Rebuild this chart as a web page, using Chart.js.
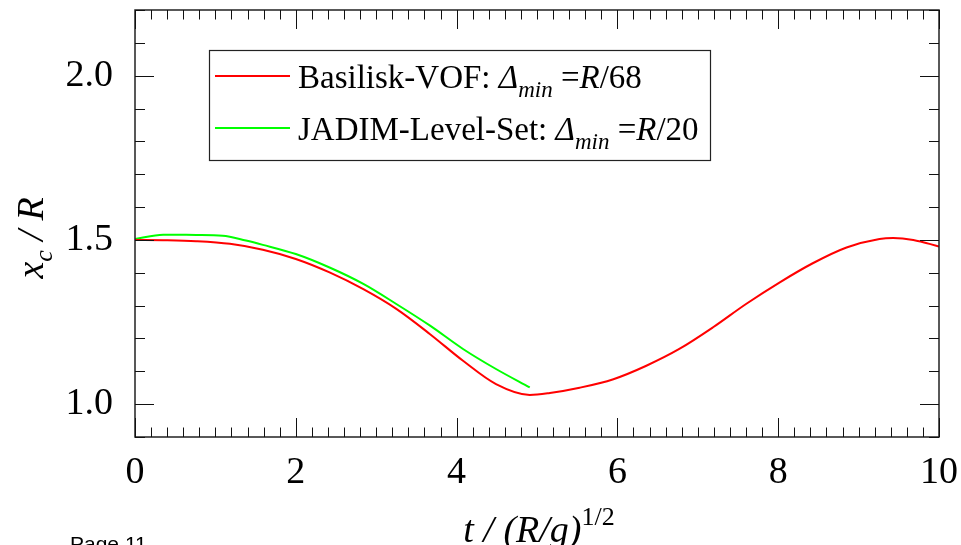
<!DOCTYPE html>
<html>
<head>
<meta charset="utf-8">
<script src="https://cdn.jsdelivr.net/npm/chart.js@4.4.1/dist/chart.umd.min.js"></script>
<style>
html,body{margin:0;padding:0;background:#fff;}
#wrap{width:961px;height:545px;position:relative;}
</style>
</head>
<body>
<div id="wrap"><canvas id="c" width="961" height="545"></canvas></div>
<script>
// ---- data ----
const basiliskT = [0, 0.35, 0.76, 1.18, 1.59, 2.0, 2.42, 2.84, 3.25, 3.67, 4.08, 4.49, 4.91, 5.16, 5.53, 5.95, 6.36, 6.77, 7.19, 7.60, 8.02, 8.43, 8.85, 9.26, 9.43, 9.68, 10.0];
const basiliskX = [1.500, 1.499, 1.496, 1.488, 1.470, 1.442, 1.401, 1.350, 1.290, 1.213, 1.132, 1.061, 1.028, 1.034, 1.050, 1.076, 1.117, 1.168, 1.234, 1.305, 1.371, 1.429, 1.477, 1.503, 1.506, 1.500, 1.480];
const jadimT = [0, 0.35, 0.76, 1.09, 1.38, 1.59, 2.0, 2.42, 2.84, 3.25, 3.67, 4.08, 4.49, 4.91];
const jadimX = [1.503, 1.516, 1.515, 1.513, 1.498, 1.485, 1.457, 1.416, 1.366, 1.305, 1.239, 1.168, 1.107, 1.051];
const xTickLabels = ['0', '2', '4', '6', '8', '10'];
const yTickValues = [1.0, 1.5, 2.0];
const yTickLabels = ['1.0', '1.5', '2.0'];
const seriesNames = ['Basilisk-VOF', 'JADIM-Level-Set'];
const seriesRes = ['68', '20'];

const SERIF = '"Liberation Serif", "DejaVu Serif", serif';

function toXY(ts, vs){ return ts.map((t,i)=>({x:t, y:vs[i]})); }

function drawSegs(ctx, segs, x, y){
  let cx = x;
  segs.forEach(s=>{
    ctx.font = (s.italic?'italic ':'') + s.size + 'px ' + SERIF;
    ctx.fillText(s.t, cx, y + (s.dy||0));
    cx += ctx.measureText(s.t).width;
  });
  return cx - x;
}
function measureSegs(ctx, segs){
  let w = 0;
  segs.forEach(s=>{
    ctx.font = (s.italic?'italic ':'') + s.size + 'px ' + SERIF;
    w += ctx.measureText(s.t).width;
  });
  return w;
}

const decor = {
  id: 'decor',
  afterDatasetsDraw(chart){
    const ctx = chart.ctx;
    const a = chart.chartArea;
    const xs = chart.scales.x, ys = chart.scales.y;
    ctx.save();
    // frame
    ctx.strokeStyle = '#222';
    ctx.lineWidth = 1.5;
    ctx.strokeRect(a.left, a.top, a.right - a.left, a.bottom - a.top);
    // x ticks (inward, bottom and top)
    ctx.lineWidth = 1;
    ctx.strokeStyle = '#111';
    for (let i = 0; i <= 50; i++){
      const v = i * 0.2;
      const px = Math.round(xs.getPixelForValue(v)) + 0.5;
      const len = (i % 10 === 0) ? 19 : 9.5;
      ctx.beginPath();
      ctx.moveTo(px, a.bottom); ctx.lineTo(px, a.bottom - len);
      ctx.moveTo(px, a.top); ctx.lineTo(px, a.top + len);
      ctx.stroke();
    }
    // y ticks
    for (let i = 9; i <= 22; i++){
      const v = i / 10;
      const py = Math.round(ys.getPixelForValue(v)) + 0.5;
      const len = (i % 5 === 0) ? 19 : 10;
      ctx.beginPath();
      ctx.moveTo(a.left, py); ctx.lineTo(a.left + len, py);
      ctx.moveTo(a.right, py); ctx.lineTo(a.right - len, py);
      ctx.stroke();
    }
    // legend
    const lx = 209, ly = 50, lw = 501, lh = 110;
    ctx.fillStyle = '#fff';
    ctx.fillRect(lx, ly, lw, lh);
    ctx.strokeStyle = '#222';
    ctx.lineWidth = 1.2;
    ctx.strokeRect(lx + 0.5, ly + 0.5, lw, lh);
    const rows = [76, 128];
    chart.data.datasets.forEach((ds, i)=>{
      const yy = rows[i];
      ctx.strokeStyle = ds.borderColor;
      ctx.lineWidth = 2;
      ctx.beginPath(); ctx.moveTo(215, yy); ctx.lineTo(290, yy); ctx.stroke();
      ctx.fillStyle = '#000';
      ctx.textBaseline = 'alphabetic';
      ctx.textAlign = 'left';
      drawSegs(ctx, [
        {t: seriesNames[i] + ': ', size: 33},
        {t: '\u0394', size: 33, italic: true},
        {t: 'min', size: 23, italic: true, dy: 9},
        {t: ' =', size: 33},
        {t: 'R', size: 33, italic: true},
        {t: '/' + seriesRes[i], size: 33}
      ], 298, yy + 12);
    });
    // x title
    ctx.fillStyle = '#000';
    ctx.textBaseline = 'alphabetic';
    ctx.textAlign = 'left';
    const xt = [
      {t: 't / (R/g)', size: 38, italic: true},
      {t: '1/2', size: 26, dy: -17}
    ];
    const xw = measureSegs(ctx, xt);
    drawSegs(ctx, xt, (a.left + a.right)/2 - xw/2 + 2, 542);
    // y title
    const yt = [
      {t: 'x', size: 38, italic: true},
      {t: 'c', size: 26, italic: true, dy: 9},
      {t: ' / ', size: 38, italic: true},
      {t: 'R', size: 38, italic: true}
    ];
    const yw = measureSegs(ctx, yt);
    ctx.save();
    ctx.translate(43, 238);
    ctx.rotate(-Math.PI/2);
    drawSegs(ctx, yt, -yw/2, 0);
    ctx.restore();
    // page footer
    ctx.font = '21px "Liberation Sans", Arial, sans-serif';
    ctx.fillStyle = '#000';
    ctx.fillText('Page 11', 70, 551);
    ctx.restore();
  }
};

new Chart(document.getElementById('c'), {
  type: 'line',
  data: {
    datasets: [
      {label: seriesNames[0], data: toXY(basiliskT, basiliskX), borderColor: '#ff0000', borderWidth: 2, pointRadius: 0, cubicInterpolationMode: 'monotone', fill: false},
      {label: seriesNames[1], data: toXY(jadimT, jadimX), borderColor: '#00ff00', borderWidth: 2, pointRadius: 0, cubicInterpolationMode: 'monotone', fill: false}
    ]
  },
  options: {
    responsive: false,
    animation: false,
    devicePixelRatio: 1,
    layout: {padding: {top: 10, right: 22, left: 0, bottom: 0}},
    plugins: {legend: {display: false}, tooltip: {enabled: false}},
    scales: {
      x: {
        type: 'linear', min: 0, max: 10,
        grid: {display: false, drawTicks: false},
        border: {display: false},
        ticks: {
          stepSize: 2, padding: 13, color: '#000', maxRotation: 0,
          font: {family: SERIF, size: 38},
          callback: (v)=> xTickLabels[Math.round(v/2)] ?? ''
        },
        afterFit: (s)=>{ s.height = 108; s.paddingLeft = 0; s.paddingRight = 0; }
      },
      y: {
        type: 'linear', min: 0.9, max: 2.2,
        grid: {display: false, drawTicks: false},
        border: {display: false},
        afterBuildTicks: (s)=>{ s.ticks = yTickValues.map(v=>({value: v})); },
        ticks: {
          padding: 22, color: '#000',
          font: {family: SERIF, size: 38},
          callback: (v)=> { const i = yTickValues.findIndex(t=>Math.abs(t-v)<1e-6); return i>=0 ? yTickLabels[i] : ''; }
        },
        afterFit: (s)=>{ s.width = 135; s.paddingTop = 0; s.paddingBottom = 0; }
      }
    }
  },
  plugins: [decor]
});
</script>
</body>
</html>
